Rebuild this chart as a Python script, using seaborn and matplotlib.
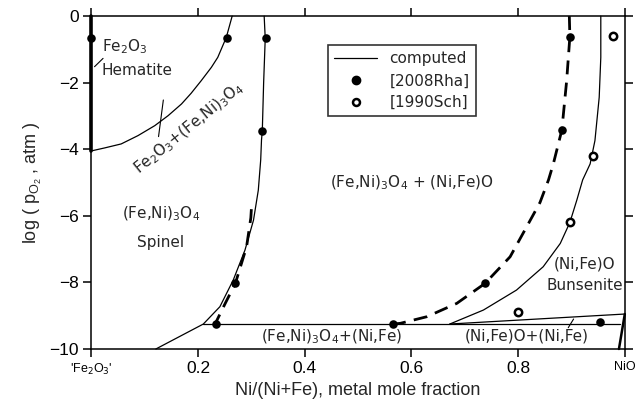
import numpy as np
import pandas as pd
import matplotlib
matplotlib.use("Agg")
import matplotlib.pyplot as plt
import seaborn as sns
from matplotlib.lines import Line2D

# phase boundaries (computed)
hem_x = [0.0, 0.0]
hem_y = [0.0, -4.05]
fe2o3_bnd_x = [0.0, 0.025, 0.056, 0.0875, 0.119, 0.144, 0.169, 0.187, 0.206,
               0.225, 0.237, 0.253, 0.264]
fe2o3_bnd_y = [-4.05, -3.96, -3.84, -3.59, -3.29, -2.99, -2.64, -2.32, -1.94,
               -1.54, -1.24, -0.64, 0.0]
spinel_bnd_x = [0.324, 0.326, 0.323, 0.3205, 0.319, 0.3175, 0.313, 0.304, 0.288,
                0.266, 0.241, 0.210, 0.121]
spinel_bnd_y = [0.0, -0.67, -2.0, -3.45, -3.72, -4.32, -5.23, -6.13, -7.03,
                -7.93, -8.73, -9.25, -10.0]
bun_bnd_x = [0.955, 0.955, 0.952, 0.944, 0.935, 0.921, 0.910, 0.897, 0.879,
             0.847, 0.797, 0.735, 0.672]
bun_bnd_y = [0.0, -1.24, -2.44, -3.74, -4.44, -4.92, -5.53, -6.2, -6.83,
             -7.53, -8.23, -8.83, -9.25]
tie_x = [0.210, 0.991]
tie_y = [-9.25, -9.25]
bun_low_x = [0.672, 1.0]
bun_low_y = [-9.25, -8.95]
nio_x = [1.0, 0.989]
nio_y = [-8.95, -10.0]

# dashed fits of experimental data
dash_left_x = [0.300, 0.299, 0.291, 0.270, 0.251, 0.232]
dash_left_y = [-5.8, -6.06, -6.93, -8.03, -8.63, -9.25]
dash_right_x = [0.896, 0.897, 0.891, 0.882, 0.866, 0.857, 0.841, 0.816, 0.785,
                0.738, 0.685, 0.629, 0.579, 0.566]
dash_right_y = [0.0, -0.62, -1.94, -3.42, -4.44, -4.92, -5.6, -6.33, -7.23,
                -8.03, -8.63, -9.03, -9.23, -9.25]

# experimental points
rha_x = [0.0, 0.254, 0.327, 0.3205, 0.270, 0.233, 0.566, 0.738, 0.882, 0.897, 0.954]
rha_y = [-0.67, -0.67, -0.67, -3.45, -8.03, -9.25, -9.25, -8.03, -3.42, -0.62, -9.2]
sch_x = [0.977, 0.941, 0.897, 0.80]
sch_y = [-0.6, -4.2, -6.2, -8.9]

x_ticks = [0.0, 0.2, 0.4, 0.6, 0.8, 1.0]
x_labels = ["'Fe$_2$O$_3$'", "0.2", "0.4", "0.6", "0.8", "NiO"]
y_ticks = [0, -2, -4, -6, -8, -10]

sns.set_style("ticks")
plt.rcParams['font.family'] = ['DejaVu Sans']

fig = plt.figure(figsize=(6.44, 4.13), dpi=100)
ax = fig.add_axes([0.1418, 0.155, 0.8284, 0.806])


def curve(xs, ys, **kw):
    d = pd.DataFrame({"x": xs, "y": ys})
    sns.lineplot(data=d, x="x", y="y", sort=False, estimator=None, ax=ax,
                 color="black", clip_on=False, **kw)


curve(hem_x, hem_y, lw=2.6)
for xs, ys in [(fe2o3_bnd_x, fe2o3_bnd_y), (spinel_bnd_x, spinel_bnd_y),
               (bun_bnd_x, bun_bnd_y), (tie_x, tie_y), (bun_low_x, bun_low_y)]:
    curve(xs, ys, lw=0.9)
curve(nio_x, nio_y, lw=1.8)

for xs, ys in [(dash_left_x, dash_left_y), (dash_right_x, dash_right_y)]:
    ax.plot(xs, ys, color="black", lw=2.0, dashes=(5, 3))

sns.scatterplot(x=rha_x, y=rha_y, ax=ax, color="black", s=38, edgecolor="black",
                linewidth=0, zorder=5, clip_on=False)
sns.scatterplot(x=sch_x, y=sch_y, ax=ax, facecolor="white", s=28, edgecolor="black",
                linewidth=1.8, zorder=5, clip_on=False)

# leader lines
ax.plot([0.022, 0.006], [-1.27, -1.52], color="black", lw=0.8)
ax.plot([0.135, 0.126], [-2.52, -3.62], color="black", lw=0.8)
ax.plot([0.904, 0.894], [-9.1, -9.36], color="black", lw=0.8)

fs = 11
ax.text(0.02, -0.93, "Fe$_2$O$_3$", fontsize=fs, va="center", ha="left")
ax.text(0.02, -1.62, "Hematite", fontsize=fs, va="center", ha="left")
ax.text(0.183, -3.35, "Fe$_2$O$_3$+(Fe,Ni)$_3$O$_4$", fontsize=fs, rotation=39,
        ha="center", va="center")
ax.text(0.6, -5.0, "(Fe,Ni)$_3$O$_4$ + (Ni,Fe)O", fontsize=fs, ha="center", va="center")
ax.text(0.13, -5.95, "(Fe,Ni)$_3$O$_4$", fontsize=fs, ha="center", va="center")
ax.text(0.13, -6.8, "Spinel", fontsize=fs, ha="center", va="center")
ax.text(0.925, -7.45, "(Ni,Fe)O", fontsize=fs, ha="center", va="center")
ax.text(0.925, -8.1, "Bunsenite", fontsize=fs, ha="center", va="center")
ax.text(0.45, -9.62, "(Fe,Ni)$_3$O$_4$+(Ni,Fe)", fontsize=fs, ha="center", va="center")
ax.text(0.817, -9.62, "(Ni,Fe)O+(Ni,Fe)", fontsize=fs, ha="center", va="center")

ax.set_xlim(0, 1)
ax.set_ylim(-10, 0)
ax.set_xticks(x_ticks)
ax.set_xticklabels(x_labels, family="Liberation Sans")
ax.set_yticks(y_ticks)
ax.set_yticklabels([f"\u2212{abs(v)}" if v else "0" for v in y_ticks],
                   family="Liberation Sans", fontsize=12.5)
for i, lab in enumerate(ax.get_xticklabels()):
    lab.set_fontsize(9 if i in (0, 5) else 12.5)
ax.tick_params(direction="out", length=6, width=1.1, top=True, right=True,
               colors="black", pad=3)
for sp in ax.spines.values():
    sp.set_linewidth(1.1)
    sp.set_color("black")

ax.set_xlabel("Ni/(Ni+Fe), metal mole fraction", family="Liberation Sans", fontsize=13)
ax.set_ylabel("log ( p$_{\\mathregular{O_2}}$ , atm )", family="Liberation Sans",
              fontsize=13, labelpad=4)

handles = [Line2D([], [], color="black", lw=0.9),
           Line2D([], [], marker="o", color="black", ls="none", ms=6),
           Line2D([], [], marker="o", mfc="white", mec="black", mew=1.8, ls="none", ms=5)]
leg = ax.legend(handles, ["computed", "[2008Rha]", "[1990Sch]"], loc="upper left",
                bbox_to_anchor=(0.43, 0.935), frameon=True, fancybox=False,
                edgecolor="black", fontsize=fs, handlelength=2.8, borderpad=0.4,
                labelspacing=0.45)
leg.get_frame().set_linewidth(1.2)

fig.savefig("out.png", dpi=100)
